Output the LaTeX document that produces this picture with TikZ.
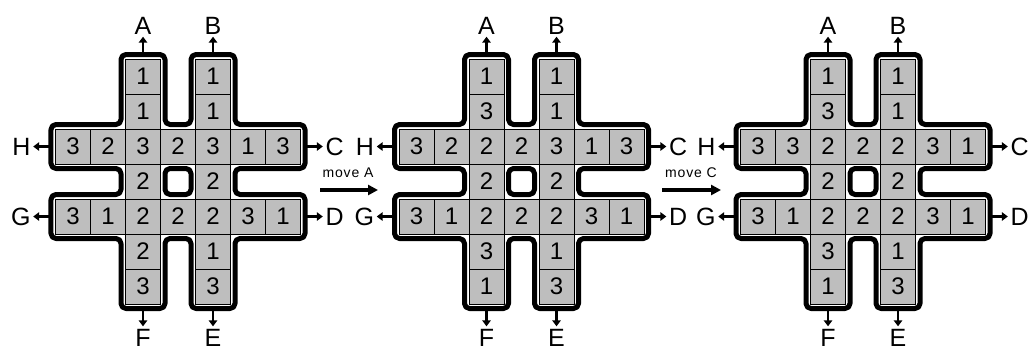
\documentclass[tikz,border=0pt]{standalone}
\usepackage{fontspec}
\setmainfont{Liberation Sans}
\usetikzlibrary{arrows.meta}
\definecolor{cellgray}{RGB}{190,190,190}
\def\frameoff{0.1286}
\tikzset{
  cell/.style={draw=black, line width=0.9pt, fill=cellgray, minimum size=35pt,
    inner sep=0pt, font=\fontsize{24}{24}\selectfont},
  frame/.style={line width=5pt, rounded corners=5pt, line join=round},
  lbl/.style={inner sep=0pt, font=\fontsize{25}{25}\selectfont},
  exitarrow/.style={line width=2.2pt, -{Triangle[width=8.5pt,length=6pt]}, shorten >=2.5pt},
  movearrow/.style={line width=3.2pt, -{Triangle[width=10pt,length=10pt]}},
  movelbl/.style={inner sep=0pt, font=\fontsize{14}{14}\selectfont\addfontfeature{LetterSpace=6}}
}
% #1 name, #2/#3 top-left corner of the 7x7 grid,
% #4 left column (row/value), #5 right column (row/value),
% #6 upper row values, #7 lower row values
\newcommand\puzzlepanel[7]{%
\begin{scope}[shift={(#2,#3)},x=35pt,y=-35pt]
  \draw[frame]
    ({2-\frameoff},{-\frameoff}) -- ({3+\frameoff},{-\frameoff}) --
    ({3+\frameoff},{2-\frameoff}) -- ({4-\frameoff},{2-\frameoff}) --
    ({4-\frameoff},{-\frameoff}) -- ({5+\frameoff},{-\frameoff}) --
    ({5+\frameoff},{2-\frameoff}) -- ({7+\frameoff},{2-\frameoff}) --
    ({7+\frameoff},{3+\frameoff}) -- ({5+\frameoff},{3+\frameoff}) --
    ({5+\frameoff},{4-\frameoff}) -- ({7+\frameoff},{4-\frameoff}) --
    ({7+\frameoff},{5+\frameoff}) -- ({5+\frameoff},{5+\frameoff}) --
    ({5+\frameoff},{7+\frameoff}) -- ({4-\frameoff},{7+\frameoff}) --
    ({4-\frameoff},{5+\frameoff}) -- ({3+\frameoff},{5+\frameoff}) --
    ({3+\frameoff},{7+\frameoff}) -- ({2-\frameoff},{7+\frameoff}) --
    ({2-\frameoff},{5+\frameoff}) -- ({-\frameoff},{5+\frameoff}) --
    ({-\frameoff},{4-\frameoff}) -- ({2-\frameoff},{4-\frameoff}) --
    ({2-\frameoff},{3+\frameoff}) -- ({-\frameoff},{3+\frameoff}) --
    ({-\frameoff},{2-\frameoff}) -- ({2-\frameoff},{2-\frameoff}) -- cycle;
  % cells
  \foreach \rw/\v in {#4} {\node[cell] (#1-l\rw) at (2.5,\rw+0.5) {\v};}
  \foreach \rw/\v in {#5} {\node[cell] (#1-r\rw) at (4.5,\rw+0.5) {\v};}
  \foreach \v [count=\k from 0] in {#6} {\node[cell] (#1-u\k) at (\k+0.5,2.5) {\v};}
  \foreach \v [count=\k from 0] in {#7} {\node[cell] (#1-d\k) at (\k+0.5,4.5) {\v};}
  % central hole
  \draw[frame, fill=white] ({3+\frameoff},{3+\frameoff}) rectangle ({4-\frameoff},{4-\frameoff});
  % exits
  \coordinate (#1-a) at (2.5,{-\frameoff});
  \coordinate (#1-b) at (4.5,{-\frameoff});
  \coordinate (#1-f) at (2.5,{7+\frameoff});
  \coordinate (#1-e) at (4.5,{7+\frameoff});
  \coordinate (#1-h) at ({-\frameoff},2.5);
  \coordinate (#1-g) at ({-\frameoff},4.5);
  \coordinate (#1-c) at ({7+\frameoff},2.5);
  \coordinate (#1-dd) at ({7+\frameoff},4.5);
  \node[lbl,anchor=south] (#1-A) at (2.5,{-\frameoff-0.58}) {A};
  \node[lbl,anchor=south] (#1-B) at (4.5,{-\frameoff-0.58}) {B};
  \node[lbl,anchor=north] (#1-F) at (2.5,{7+\frameoff+0.58}) {F};
  \node[lbl,anchor=north] (#1-E) at (4.5,{7+\frameoff+0.58}) {E};
  \node[lbl,anchor=east] (#1-H) at ({-\frameoff-0.58},2.5) {H};
  \node[lbl,anchor=east] (#1-G) at ({-\frameoff-0.58},4.5) {G};
  \node[lbl,anchor=west] (#1-C) at ({7+\frameoff+0.58},2.5) {C};
  \node[lbl,anchor=west] (#1-D) at ({7+\frameoff+0.58},4.5) {D};
  \draw[exitarrow] (#1-a) -- (#1-A);
  \draw[exitarrow] (#1-b) -- (#1-B);
  \draw[exitarrow] (#1-f) -- (#1-F);
  \draw[exitarrow] (#1-e) -- (#1-E);
  \draw[exitarrow] (#1-h) -- (#1-H);
  \draw[exitarrow] (#1-g) -- (#1-G);
  \draw[exitarrow] (#1-c) -- (#1-C);
  \draw[exitarrow] (#1-dd) -- (#1-D);
\end{scope}}

\begin{document}
\begin{tikzpicture}[x=1pt,y=-1pt]
  \useasboundingbox (0,0) rectangle (1035,354);
  \puzzlepanel{p1}{55.5}{59}{0/1,1/1,3/2,5/2,6/3}{0/1,1/1,3/2,5/1,6/3}{3,2,3,2,3,1,3}{3,1,2,2,2,3,1}
  \puzzlepanel{p2}{399}{59}{0/1,1/3,3/2,5/3,6/1}{0/1,1/1,3/2,5/1,6/3}{3,2,2,2,3,1,3}{3,1,2,2,2,3,1}
  \puzzlepanel{p3}{740.5}{59}{0/1,1/3,3/2,5/3,6/1}{0/1,1/1,3/2,5/1,6/3}{3,3,2,2,2,3,1}{3,1,2,2,2,3,1}
  % moves between the states
  \coordinate (m1s) at (320,190);
  \coordinate (m1e) at (378,190);
  \node[movelbl] (m1) at (348,173) {move A};
  \draw[movearrow] (m1s) -- (m1e);
  \coordinate (m2s) at (662,190);
  \coordinate (m2e) at (721,190);
  \node[movelbl] (m2) at (691,173) {move C};
  \draw[movearrow] (m2s) -- (m2e);
\end{tikzpicture}
\end{document}
